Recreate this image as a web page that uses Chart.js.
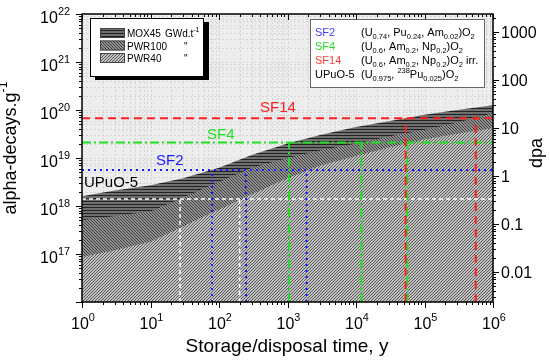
<!DOCTYPE html>
<html lang="en">
<head>
  <meta charset="UTF-8">
  <title>Alpha decays vs storage time</title>
  <script src="https://cdn.jsdelivr.net/npm/chart.js"></script>
  <style>
    body { margin: 0; background: #fff; }
    .wrap { width: 550px; height: 360px; }
  </style>
</head>
<body>
  <div class="wrap"><canvas id="chart" width="550" height="360"></canvas></div>
  <script>
    // storage time (years) and cumulated alpha decays per gram
    const times = [1, 3, 10, 30, 100, 300, 1000, 3000, 1e4, 3e4, 1e5, 3e5, 1e6];
    const mox45 = [1.6e18, 2.1e18, 2.7e18, 3.8e18, 6.3e18, 1.15e19, 2.0e19, 3.0e19, 4.4e19, 5.8e19, 8.0e19, 1.0e20, 1.26e20];
    const pwr100 = [5.1e17, 6.2e17, 7.8e17, 1.5e18, 3.2e18, 6.3e18, 1.0e19, 1.45e19, 2.0e19, 2.8e19, 3.9e19, 5.5e19, 8.7e19];
    const pwr40 = [8.7e16, 1.2e17, 1.8e17, 3.8e17, 8.5e17, 1.75e18, 3.8e18, 7.0e18, 1.1e19, 1.65e19, 2.45e19, 3.2e19, 4.2e19];

    // reference materials: dose reached, and times where each fuel reaches it
    const levelNames = ['SF14', 'SF4', 'SF2', 'UPuO-5'];
    const levelValues = [6.7e19, 2.1e19, 5.6e18, 1.4e18];
    const crossTimes = [[53000, 560000], [1050, 12000, 56000], [79, 248, 1900], [27, 200]];

    const xTickExps = [0, 1, 2, 3, 4, 5, 6];
    const yTickExps = [17, 18, 19, 20, 21, 22];
    const dpaTicks = ['0.01', '0.1', '1', '10', '100', '1000'];
    const dpaPerDecay = 2.37e-19;

    const FAM = "'Liberation Sans', Arial, sans-serif";
    const levelColors = ['#ff1f1f', '#1fe01f', '#1a1aff', '#ffffff'];
    const levelDash = [[8, 5], [9, 3, 2, 3], [2, 4], [4, 3]];
    const levelWidth = [2, 2, 2, 1.5];

    const canvas = document.getElementById('chart');
    const ctx = canvas.getContext('2d');

    function makePattern(size, bg, fg, cells) {
      const c = document.createElement('canvas');
      c.width = size; c.height = size;
      const g = c.getContext('2d');
      g.fillStyle = bg; g.fillRect(0, 0, size, size);
      g.fillStyle = fg;
      cells.forEach(([x, y]) => g.fillRect(x, y, 1, 1));
      return ctx.createPattern(c, 'repeat');
    }
    const moxFill = makePattern(3, '#707070', '#222222', [[0, 0], [1, 0], [2, 0]]);
    const pwr100Fill = makePattern(3, '#929292', '#3a3a3a', [[0, 0], [1, 1], [2, 2]]);
    const pwr40Fill = makePattern(3, '#c2c2c2', '#575757', [[2, 0], [1, 1], [0, 2]]);

    const pts = vals => times.map((t, i) => ({ x: t, y: vals[i] }));

    const datasets = [];
    levelValues.forEach((v, i) => {
      datasets.push({
        data: [{ x: 1, y: v }, { x: 1e6, y: v }],
        borderColor: levelColors[i], borderWidth: levelWidth[i], borderDash: levelDash[i],
        pointRadius: 0, fill: false, order: 0
      });
      crossTimes[i].forEach(t => {
        datasets.push({
          data: [{ x: t, y: 1e16 }, { x: t, y: v }],
          borderColor: levelColors[i], borderWidth: levelWidth[i], borderDash: levelDash[i],
          pointRadius: 0, fill: false, order: 0
        });
      });
    });
    datasets.push({ label: 'PWR40', data: pts(pwr40), backgroundColor: pwr40Fill, borderWidth: 0, pointRadius: 0, fill: 'start', order: 1 });
    datasets.push({ label: 'PWR100', data: pts(pwr100), backgroundColor: pwr100Fill, borderWidth: 0, pointRadius: 0, fill: 'start', order: 2 });
    datasets.push({ label: 'MOX45', data: pts(mox45), backgroundColor: moxFill, borderWidth: 0, pointRadius: 0, fill: 'start', order: 3 });

    function drawRich(g, x, y, parts, size, align) {
      let w = 0;
      parts.forEach(([t, m]) => { g.font = (m ? size * 0.68 : size) + 'px ' + FAM; w += g.measureText(t).width; });
      let cx = align === 'right' ? x - w : align === 'center' ? x - w / 2 : x;
      g.textAlign = 'left';
      g.textBaseline = 'alphabetic';
      parts.forEach(([t, m]) => {
        g.font = (m ? size * 0.68 : size) + 'px ' + FAM;
        const dy = m === 1 ? size * 0.25 : m === 2 ? -size * 0.48 : 0;
        g.fillText(t, cx, y + dy);
        cx += g.measureText(t).width;
      });
    }

    function logSteps(lo, hi) {
      const out = [];
      for (let e = Math.floor(Math.log10(lo)) - 1; e <= Math.ceil(Math.log10(hi)); e++) {
        for (let m = 1; m < 10; m++) {
          const v = m * Math.pow(10, e);
          if (v >= lo * 0.9999 && v <= hi * 1.0001) out.push({ v, major: m === 1 });
        }
      }
      return out;
    }

    const decor = {
      id: 'decor',
      beforeDatasetsDraw(chart) {
        const g = chart.ctx, a = chart.chartArea;
        const xs = chart.scales.x, ys = chart.scales.y;
        g.save();
        g.fillStyle = '#ededed';
        g.fillRect(a.left, a.top, a.right - a.left, a.bottom - a.top);
        g.strokeStyle = '#d6d6d6';
        g.lineWidth = 1;
        g.setLineDash([2, 2]);
        logSteps(1, 1e6).forEach(({ v }) => {
          const px = Math.round(xs.getPixelForValue(v)) + 0.5;
          g.beginPath(); g.moveTo(px, a.top); g.lineTo(px, a.bottom); g.stroke();
        });
        logSteps(1e16, 1e22).forEach(({ v }) => {
          const py = Math.round(ys.getPixelForValue(v)) + 0.5;
          g.beginPath(); g.moveTo(a.left, py); g.lineTo(a.right, py); g.stroke();
        });
        g.restore();
      },
      afterDatasetsDraw(chart) {
        const g = chart.ctx, a = chart.chartArea;
        const xs = chart.scales.x, ys = chart.scales.y, rs = chart.scales.y2;
        g.save();
        g.setLineDash([]);
        g.strokeStyle = '#000';
        g.lineWidth = 1.5;
        g.strokeRect(a.left, a.top, a.right - a.left, a.bottom - a.top);

        g.lineWidth = 1;
        g.beginPath();
        logSteps(1, 1e6).forEach(({ v, major }) => {
          const px = Math.round(xs.getPixelForValue(v)) + 0.5, len = major ? 6 : 3;
          g.moveTo(px, a.bottom); g.lineTo(px, a.bottom + len);
          g.moveTo(px, a.top); g.lineTo(px, a.top + len);
        });
        logSteps(1e16, 1e22).forEach(({ v, major }) => {
          const py = Math.round(ys.getPixelForValue(v)) + 0.5, len = major ? 6 : 3;
          g.moveTo(a.left, py); g.lineTo(a.left - len, py);
        });
        logSteps(1e16 * dpaPerDecay, 1e22 * dpaPerDecay).forEach(({ v, major }) => {
          const py = Math.round(rs.getPixelForValue(v)) + 0.5, len = major ? 6 : 3;
          g.moveTo(a.right, py); g.lineTo(a.right + len, py);
        });
        g.stroke();

        g.fillStyle = '#000';
        xTickExps.forEach(e => {
          drawRich(g, xs.getPixelForValue(Math.pow(10, e)) + 1, 329, [['10', 0], [String(e), 2]], 16, 'center');
        });
        yTickExps.forEach(e => {
          drawRich(g, 70, ys.getPixelForValue(Math.pow(10, e)) + 9, [['10', 0], [String(e), 2]], 16, 'right');
        });
        dpaTicks.forEach(t => {
          drawRich(g, 501, rs.getPixelForValue(parseFloat(t)) + 6, [[t, 0]], 16, 'left');
        });

        drawRich(g, 287, 352, [['Storage/disposal time, y', 0]], 19, 'center');
        g.save();
        g.translate(16, 148);
        g.rotate(-Math.PI / 2);
        drawRich(g, 0, 0, [['alpha-decays.g', 0], ['-1', 2]], 18, 'center');
        g.restore();
        g.save();
        g.translate(542, 153);
        g.rotate(-Math.PI / 2);
        drawRich(g, 0, 0, [['dpa', 0]], 18, 'center');
        g.restore();

        // labels on reference lines
        const labelX = [260, 207, 156, 84];
        const labelUp = [6, 4, 5, 12];
        levelNames.forEach((n, i) => {
          g.fillStyle = i === 3 ? '#000' : levelColors[i];
          drawRich(g, labelX[i], ys.getPixelForValue(levelValues[i]) - labelUp[i], [[n, 0]], 15, 'left');
        });

        // fuel legend
        g.fillStyle = '#000';
        g.fillRect(95, 22, 114, 58);
        g.fillStyle = '#fff';
        g.fillRect(90, 18, 114, 59);
        g.strokeStyle = '#000';
        g.lineWidth = 1;
        g.strokeRect(90.5, 18.5, 113, 58);
        const sw = [moxFill, pwr100Fill, pwr40Fill];
        const names = ['MOX45', 'PWR100', 'PWR40'];
        sw.forEach((p, i) => {
          const y0 = 28 + i * 12.5;
          g.fillStyle = p;
          g.fillRect(100, y0, 25, 10);
          g.strokeStyle = '#444';
          g.strokeRect(100.5, y0 + 0.5, 24, 9);
          g.fillStyle = '#000';
          drawRich(g, 127, y0 + 9, [[names[i], 0]], 10, 'left');
          if (i === 0) drawRich(g, 165, y0 + 9, [['GWd.t', 0], ['-1', 2]], 10, 'left');
          else drawRich(g, 184, y0 + 9, [['"', 0]], 10, 'left');
        });

        // composition legend
        g.fillStyle = '#fff';
        g.fillRect(310, 19, 175, 69);
        g.strokeStyle = '#666';
        g.strokeRect(310.5, 19.5, 174, 68);
        const comp = [
          [['(U', 0], ['0.74', 1], [', Pu', 0], ['0.24', 1], [', Am', 0], ['0.02', 1], [')O', 0], ['2', 1]],
          [['(U', 0], ['0.6', 1], [', Am', 0], ['0.2', 1], [', Np', 0], ['0.2', 1], [')O', 0], ['2', 1]],
          [['(U', 0], ['0.6', 1], [', Am', 0], ['0.2', 1], [', Np', 0], ['0.2', 1], [')O', 0], ['2', 1], [' irr.', 0]],
          [['(U', 0], ['0.975', 1], [', ', 0], ['238', 2], ['Pu', 0], ['0.025', 1], [')O', 0], ['2', 1]]
        ];
        const keyColors = ['#3b3bff', '#22dd22', '#ff3b3b', '#000'];
        const keyOrder = [2, 1, 0, 3];
        keyOrder.forEach((li, row) => {
          const by = 36 + row * 14;
          g.fillStyle = keyColors[row];
          drawRich(g, 315, by, [[levelNames[li], 0]], 11, 'left');
          g.fillStyle = '#000';
          drawRich(g, 361, by, comp[row], 11, 'left');
        });
        g.restore();
      }
    };

    new Chart(canvas, {
      type: 'line',
      data: { datasets },
      options: {
        responsive: false,
        animation: false,
        layout: { padding: { top: 14, left: 0, right: 0, bottom: 0 } },
        plugins: { legend: { display: false }, tooltip: { enabled: false } },
        elements: { line: { tension: 0 } },
        scales: {
          x: {
            type: 'logarithmic', min: 1, max: 1e6,
            ticks: { display: false }, grid: { display: false }, border: { display: false },
            afterFit: s => { s.height = 58; }
          },
          y: {
            type: 'logarithmic', position: 'left', min: 1e16, max: 1e22,
            ticks: { display: false }, grid: { display: false }, border: { display: false },
            afterFit: s => { s.width = 82; }
          },
          y2: {
            type: 'logarithmic', position: 'right', min: 1e16 * dpaPerDecay, max: 1e22 * dpaPerDecay,
            ticks: { display: false }, grid: { display: false }, border: { display: false },
            afterFit: s => { s.width = 57; }
          }
        }
      },
      plugins: [decor]
    });
  </script>
</body>
</html>
